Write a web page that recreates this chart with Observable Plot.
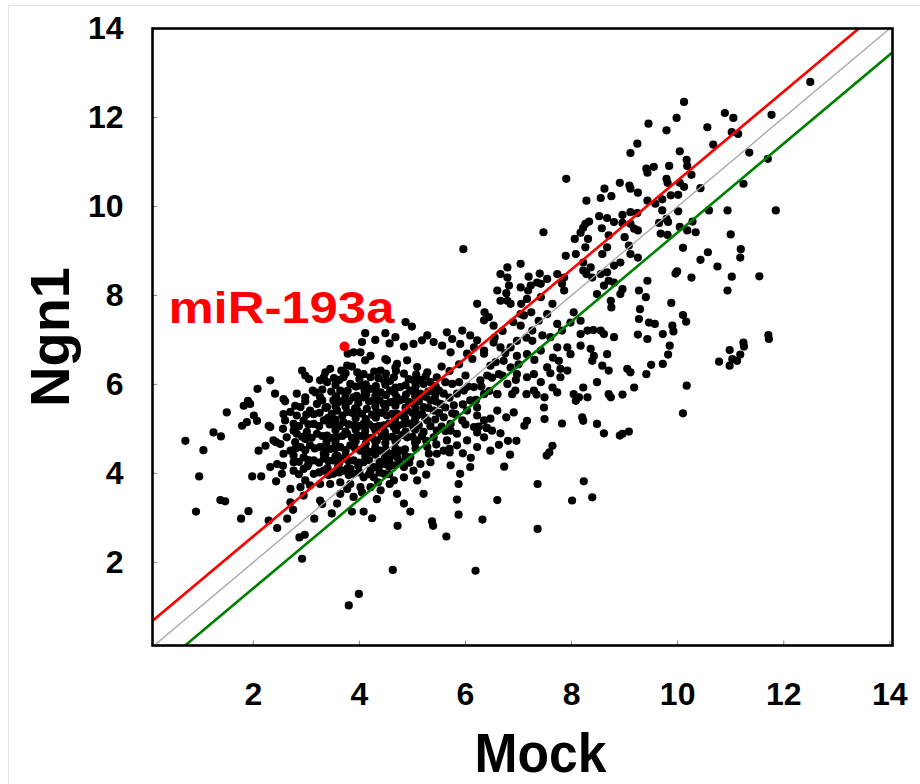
<!DOCTYPE html>
<html>
<head>
<meta charset="utf-8">
<script src="https://cdn.jsdelivr.net/npm/d3@7"></script>
<script src="https://cdn.jsdelivr.net/npm/@observablehq/plot@0.6"></script>
<style>
  html, body { margin: 0; padding: 0; background: #ffffff; }
  #chart { width: 920px; height: 784px; position: relative; }
  #chart::after { content: ""; position: absolute; left: 8px; top: 5px; right: 0; bottom: 0;
    border-left: 1px solid #e4e4e4; border-top: 1px solid #e4e4e4; pointer-events: none; }
</style>
</head>
<body>
<div id="chart"></div>
<script>
// ---- tick labels ----
const xTicks = [2, 4, 6, 8, 10, 12, 14];
const yTicks = [2, 4, 6, 8, 10, 12, 14];

// ---- fold-change guide lines (log2 offsets from y = x) ----
const diagonalMock = [-1, 15];
const upOffset = 0.585;
const equalOffset = 0;
const downOffset = -0.585;

// ---- highlighted miRNA ----
const highlightName = "miR-193a";
const highlightMock = 3.72;
const highlightNgn1 = 6.85;

// ---- points [Mock, Ngn1] ----
const highPoints = [
  [9.45,11.86],[9.24,11.41],[9.11,11.2],[9.41,10.85],[9.43,10.76],[7.9,10.62],[8.62,10.4],[8.91,10.53],
  [9.09,10.47],[9.11,10.4],[9.25,10.31],[8.55,10.19],[8.75,10.23],[8.28,10.13],[7.47,9.42],[8.52,9.78],
  [8.67,9.74],[8.96,9.81],[9.11,9.87],[9.24,9.85],[8.8,9.65],[8.96,9.63],[9.11,9.61],[9.18,9.5],
  [9.25,9.46],[8.26,9.61],[8.22,9.52],[8.17,9.41],[8.33,9.66],[8.57,9.51],[8.7,9.35],[9.0,9.31],
  [8.06,9.27],[8.31,9.27],[9.43,10.13],
  [12.5,12.8],[10.12,12.35],[10.89,12.1],[11.05,11.99],[11.77,12.06],[9.98,11.99],[9.79,11.71],[10.56,11.78],
  [11.02,11.67],[11.14,11.63],[10.67,11.39],[10.04,11.24],[10.17,11.05],[10.18,10.91],[11.35,11.21],[11.7,11.07],
  [9.55,10.89],[9.84,10.91],[10.26,10.71],[9.79,10.62],[9.81,10.53],[10.04,10.53],[10.12,10.44],[10.43,10.41],
  [11.24,10.51],[9.58,10.06],[9.71,10.16],[9.87,10.25],[10.01,10.26],[9.71,9.91],[10.01,9.89],[10.59,9.91],
  [10.94,9.91],[11.85,9.91],[9.79,9.72],[9.65,9.63],[9.82,9.65],[10.28,9.66],[10.04,9.54],[10.18,9.46],
  [10.34,9.42],[11.0,9.37],[9.68,9.39],[9.81,9.36]
];

const rightPoints = [
  [10.1,9.07],[10.57,8.97],[10.43,8.8],[11.19,9.04],[11.18,8.85],[10.75,8.65],[9.99,8.54],[9.96,8.49],
  [10.26,8.4],[11.02,8.42],[11.54,8.43],[10.94,8.11],[9.88,7.83],[10.1,7.56],[10.16,7.41],[9.57,7.36],
  [9.9,7.32],[9.92,7.19],[9.72,7.13],[11.71,7.11],[11.72,7.02],[9.85,6.87],[11.24,6.94],[11.25,6.85],
  [10.98,6.77],[9.82,6.67],[11.18,6.67],[11.03,6.57],[11.12,6.53],[10.78,6.51],[10.98,6.42],[9.5,6.44],
  [9.72,6.46],[10.17,5.97],[10.1,5.35]
];

const midPoints = [
  [5.96,9.04],[8.26,9.08],[7.89,8.89],[8.08,8.93],[8.58,8.93],[8.67,9.08],[9.08,9.12],[9.11,8.93],
  [9.25,8.85],[8.92,8.74],[8.8,8.67],[8.22,8.74],[8.36,8.63],[8.22,8.56],[8.28,8.48],[8.39,8.4],
  [8.55,8.48],[8.67,8.52],[8.7,8.33],[8.61,8.22],[8.8,8.29],[8.96,8.14],[8.92,8.03],[9.27,8.11],
  [9.43,8.33],[9.4,7.96],[9.29,7.69],[9.27,7.47],[9.46,7.39],[9.25,7.12],[9.43,7.02],[8.74,7.88],
  [8.75,7.73],[8.48,8.03],[8.04,7.62],[8.17,7.43],[7.98,7.39],[8.17,7.13],[8.3,7.21],[8.41,7.22],
  [8.55,7.21],[8.61,7.13],[8.8,7.06],[8.17,6.87],[8.36,6.8],[8.42,6.64],[8.39,6.53],[8.67,6.68],
  [8.58,6.42],[8.7,6.31],[9.05,6.35],[9.11,6.27],[9.41,6.23],[8.48,6.05],[9.18,5.93],[8.96,5.77],
  [8.7,5.78],[8.74,5.71],[8.22,5.93],[8.3,5.71],[8.14,5.71],[8.04,5.78],[8.2,5.26],[8.22,5.18],
  [8.48,5.11],[8.96,4.89],[9.08,4.94],[7.49,5.22],[7.82,5.12],[7.16,5.18],[7.11,5.07],[8.08,5.63],
  [7.48,5.48],[7.64,5.93],[7.73,5.82],[7.79,6.35],[7.79,6.16],[7.29,5.86],[7.34,5.77],[7.49,5.71],
  [7.15,5.78],[6.94,5.86],[6.88,5.78],[6.6,5.78],[6.91,5.37],[6.77,5.26],[6.66,4.9],[6.8,4.73],
  [6.96,4.73],[6.4,5.02],[6.63,4.64],[6.22,4.92],[7.64,4.62],[8.61,4.9],[8.91,4.85],
  [6.22,7.81],[6.36,7.62],[6.66,8.48],[6.79,8.63],[7.04,8.71],[7.19,8.42],[7.4,8.49],[7.35,8.29],
  [6.79,8.4],[6.82,8.22],[6.6,8.11],[6.77,8.05],[6.66,7.88],[6.79,7.88],[7.04,8.18],[7.18,8.11],
  [7.23,8.22],[7.42,8.26],[7.54,8.37],[7.73,8.48],[7.86,8.4],[7.82,8.26],[7.86,8.11],[7.42,7.96],
  [7.16,7.92],[7.05,7.81],[6.85,7.81],[7.04,7.58],[7.24,7.62],[7.38,7.43],[7.54,7.58],[7.64,7.81],
  [7.04,7.32],[7.26,7.21],[7.73,7.36],[7.6,7.06],[7.82,7.21],[7.73,6.83],[7.92,6.83],[7.98,6.68],
  [7.76,6.53],[7.92,6.31],[7.42,6.76],[7.16,6.68],[6.97,6.64],[7.54,6.38],[7.29,6.23],[7.16,6.16],
  [7.42,6.05],[6.97,6.23],[6.72,6.53],[6.85,6.38],[6.63,6.23],[6.79,6.01],[6.35,5.78],[6.22,5.48],
  [5.81,5.33],[5.72,4.96],[6.6,5.78],[6.4,5.02],
  [6.97,6.98],[6.85,6.83],[7.26,6.98],[6.66,6.83],[6.53,6.94],[6.35,6.76],[6.16,6.83],
  [6.55,7.05],[6.70,7.20],[6.90,7.40],[7.10,7.55],[6.75,6.70],[7.00,6.45],[7.30,6.55],[7.45,7.10],
  [7.65,6.60],[7.15,7.05],[6.50,6.15],[6.70,6.20],[6.95,6.10],[7.60,6.25]
];

const corePoints = [
  [4.87,7.40],[4.99,7.30],[5.28,7.10],[5.18,6.99],[5.02,6.91],[4.84,6.85],[4.68,7.06],[4.49,7.15],
  [4.30,7.00],[4.11,7.15],[4.05,6.95],[3.89,6.72],[3.78,6.69],[4.02,6.72],[4.11,6.54],[3.96,6.27],
  [3.77,6.42],[3.66,6.31],[3.45,6.35],[3.36,6.27],[3.26,6.09],[3.39,6.05],[2.92,6.31],[2.98,6.20],
  [2.82,5.79],[2.57,5.67],[2.41,5.79],[2.32,6.09],
  [5.65,7.17],[5.75,7.02],[5.94,7.21],[6.09,7.10],[6.22,6.99],[6.35,7.44],[6.44,7.51],[6.53,7.32],
  [5.90,6.91],[5.72,6.72],[5.56,6.87],[5.40,6.95],[6.03,6.69],[6.13,6.57],[6.35,6.69],[6.47,6.42],
  [6.57,6.50],[6.41,6.20],[6.28,6.09],[6.16,5.94],[5.97,5.86],[6.09,5.64],[6.03,5.41],[6.22,5.30],
  [6.35,5.19],[6.47,5.23],[6.60,5.41],[6.50,4.96],[6.35,4.81],[6.16,5.04],[5.94,5.19],[5.78,5.53],
  [5.84,5.79],[5.75,6.01],[5.46,6.16],[5.28,6.27],[5.09,6.39],[4.90,6.54],[4.71,6.46],[4.52,6.54],
  [4.40,6.31],[4.21,6.16],[4.46,6.09],[4.65,6.16],[4.84,6.24],[5.02,6.09],[5.21,6.01],[5.40,5.90],
  [5.59,5.79],[5.53,5.56],[5.34,5.64],[5.15,5.79],[4.96,5.86],[4.77,5.94],[4.58,5.86],[4.40,5.82],
  [4.21,5.90],[4.02,5.97],[3.83,6.01],[3.64,5.86],[3.51,5.64],[3.70,5.64],[3.89,5.71],[4.08,5.71],
  [4.27,5.64],[4.46,5.56],[4.65,5.60],[4.84,5.67],[5.02,5.56],[5.21,5.49],[5.40,5.41],[5.59,5.26],
  [5.72,5.11],[5.84,4.89],[6.03,4.74],[5.84,4.63],[5.65,4.74],[5.46,4.96],[5.28,5.19],[5.09,5.30],
  [4.90,5.41],[4.71,5.34],[4.52,5.30],[4.33,5.38],[4.14,5.45],[3.96,5.41],[3.77,5.38],[3.58,5.41],
  [3.39,5.49],[3.20,5.56],[3.07,5.41],[2.89,5.49],[2.70,5.38],[2.60,5.19],[2.76,5.11],[2.95,5.19],
  [3.14,5.11],[3.33,5.19],[3.51,5.11],[3.70,5.15],[3.89,5.08],[4.08,5.11],[4.27,5.04],[4.46,5.08],
  [4.65,5.04],[4.84,5.11],[5.02,5.04],[5.21,4.93],[5.40,4.81],[5.59,4.51],[5.46,4.44],[5.28,4.59],
  [5.09,4.74],[4.90,4.81],[4.71,4.78],[4.52,4.81],[4.33,4.74],[4.14,4.81],[3.96,4.85],[3.77,4.89],
  [3.58,4.81],[3.39,4.85],[3.20,4.89],[3.01,4.93],[2.82,4.89],[2.63,4.81],[2.51,4.66],[2.70,4.51],
  [2.89,4.59],[3.07,4.63],[3.26,4.59],[3.45,4.55],[3.64,4.59],[3.83,4.63],[4.02,4.51],[4.21,4.48],
  [4.40,4.51],[4.58,4.44],[4.77,4.51],[4.96,4.36],[5.15,4.21],[5.34,4.25],[5.02,4.06],[4.84,4.14],
  [4.65,4.18],[4.46,4.21],[4.27,4.14],[4.08,4.25],[3.89,4.29],[3.70,4.33],[3.51,4.29],[3.33,4.33],
  [3.14,4.29],[2.95,4.36],[2.76,4.25],[2.57,4.44],[2.45,4.21],[2.54,3.99],[2.76,4.06],[2.95,4.10],
  [3.14,3.99],[3.33,4.06],[3.51,3.99],[3.70,4.06],[3.89,3.99],[4.08,3.91],[4.27,3.91],[4.46,3.99],
  [4.65,3.84],[4.84,3.91],[5.09,3.84],[4.40,3.62],[4.21,3.69],[4.02,3.69],[3.83,3.76],[3.64,3.80],
  [3.45,3.76],[3.26,3.76],[3.07,3.73],[2.89,3.69],[2.70,3.65],[3.64,3.54],[3.89,3.47],[3.58,3.32],
  [3.26,3.39],[2.95,3.50],[2.70,3.35],[4.71,3.54],[4.84,3.32],[5.21,3.54],[5.72,4.18],[5.90,3.99],
  [6.09,4.14],[5.87,3.76],[6.22,4.59],[6.47,4.51],[2.32,5.04],[2.38,4.74],[2.32,4.14],
  [3.74,6.25],[4.28,6.29],[4.50,6.24],[4.69,6.30],[5.07,6.22],[5.25,6.18],
  [3.55,5.99],[3.93,5.95],[4.12,6.00],[4.31,5.96],[4.49,5.99],[4.68,5.93],[4.87,5.98],[5.06,5.96],[5.44,5.95],
  [3.56,5.73],[3.74,5.77],[3.95,5.74],[4.13,5.78],[4.30,5.73],[4.50,5.76],[4.70,5.72],[4.88,5.77],[5.05,5.74],[5.25,5.72],[5.43,5.76],
  [3.36,5.47],[3.55,5.51],[3.74,5.50],[3.92,5.46],[4.30,5.50],[4.49,5.47],[4.68,5.52],[4.87,5.48],[5.06,5.45],[5.30,5.47],[5.62,5.48],
  [3.41,5.25],[3.55,5.21],[3.93,5.24],[4.12,5.22],[4.31,5.25],[4.67,5.21],[4.86,5.24],[5.05,5.22],[5.24,5.25],[5.43,5.21],
  [3.55,4.97],[3.74,4.94],[3.93,4.98],[4.11,4.95],[4.30,4.97],[4.48,4.93],[4.69,4.97],[4.87,4.94],[5.05,4.98],[5.62,4.95],
  [3.38,4.70],[3.55,4.68],[3.93,4.72],[4.12,4.67],[4.30,4.71],[4.49,4.68],[4.68,4.72],[5.05,4.69],[5.26,4.73],
  [3.36,4.42],[3.55,4.38],[3.74,4.41],[4.11,4.39],[4.30,4.42],[4.49,4.37],[4.68,4.41],[4.87,4.38],
  [3.02,4.16],[3.40,4.12],[3.60,4.15],[3.78,4.12],[3.98,4.16],[4.36,4.12],[4.56,4.15]
];

const denseCorePoints = [
  [3.05,6.12],[3.52,6.14],[3.62,6.10],[4.00,6.12],[4.36,6.14],[4.58,6.08],[4.93,6.12],[5.15,6.10],[5.34,6.05],
  [3.12,5.86],[3.30,5.88],[3.47,5.84],[3.78,5.86],[4.10,5.84],[4.30,5.88],[4.66,5.82],[5.05,5.86],[5.30,5.84],[5.50,5.86],
  [2.98,5.62],[3.30,5.64],[3.60,5.60],[3.80,5.62],[3.98,5.58],[4.18,5.62],[4.38,5.64],[4.58,5.60],[4.76,5.64],[4.94,5.60],[5.12,5.62],[5.44,5.62],
  [3.00,5.32],[3.25,5.36],[3.48,5.34],[3.68,5.30],[3.86,5.36],[4.05,5.34],[4.24,5.32],[4.42,5.36],[4.62,5.34],[4.80,5.30],[5.00,5.36],[5.18,5.34],[5.50,5.36],
  [2.86,5.06],[3.04,5.10],[3.24,5.06],[3.44,5.10],[3.62,5.06],[3.80,5.10],[3.98,5.06],[4.18,5.10],[4.36,5.06],[4.56,5.12],[4.74,5.08],[4.94,5.12],[5.12,5.08],[5.34,5.06],
  [2.92,4.82],[3.10,4.80],[3.30,4.84],[3.48,4.80],[3.68,4.84],[3.86,4.80],[4.04,4.84],[4.24,4.80],[4.42,4.84],[4.62,4.82],[4.80,4.86],[5.00,4.82],[5.18,4.84],
  [2.80,4.56],[2.98,4.52],[3.16,4.56],[3.36,4.52],[3.54,4.56],[3.74,4.52],[3.92,4.56],[4.12,4.54],[4.30,4.58],[4.50,4.54],[4.68,4.56],[4.86,4.54],[5.06,4.56],
  [2.86,4.26],[3.04,4.30],[3.24,4.24],[3.42,4.28],[3.62,4.24],[3.80,4.28],[3.98,4.24],[4.18,4.30],[4.38,4.26],[4.56,4.30],[4.76,4.26],[4.94,4.24],
  [2.86,3.98],[3.24,4.02],[3.42,3.96],[3.62,4.02],[3.80,3.96],[4.00,4.02],[4.18,3.98],[4.38,4.02],[4.56,3.98],
  [5.55,6.40],[5.70,6.30],[5.88,6.45],[6.00,6.20],[5.62,6.05],[5.88,6.05],[6.05,5.95],[5.70,5.70],[5.95,5.55],
  [6.20,5.65],[6.30,5.95],[6.45,5.85],[5.55,5.05],[5.75,5.35],[6.00,5.10],[6.25,5.05],[5.45,4.65],[5.70,4.55],
  [5.95,4.45],[6.10,4.35]
];

const leftPoints = [
  [4.57,6.92],[4.49,6.57],[4.21,6.64],[3.86,6.40],[3.33,6.16],[3.7,6.16],[4.08,6.23],[4.68,6.38],
  [2.08,5.9],[2.6,5.62],[2.98,5.71],[3.17,5.82],[3.26,5.71],[1.9,5.63],[1.82,5.52],[1.94,5.56],
  [1.5,5.37],[2.01,5.3],[1.88,5.15],[1.79,5.07],[2.07,5.18],[2.29,5.07],[2.57,5.33],[2.79,5.52],
  [2.82,5.3],[2.56,5.0],[2.76,4.96],[3.14,5.33],[1.25,4.92],[1.39,4.83],[0.72,4.73],[1.06,4.52],
  [2.43,4.7],[2.23,4.62],[2.79,4.7],[2.98,4.77]
];

const lowPoints = [
  [2.1,4.51],[0.98,3.93],[1.98,3.93],[2.15,3.93],[2.43,3.82],[1.38,3.4],[1.47,3.37],[0.92,3.14],
  [1.91,3.15],[1.77,2.98],[2.29,2.94],[2.45,2.77],[2.64,2.98],[2.75,3.18],[2.87,2.56],[2.97,2.62],
  [2.92,2.08],[3.15,2.98],[3.48,3.1],[3.86,3.14],[4.08,3.14],[4.24,2.99],[4.72,2.82],[4.63,1.83],
  [3.99,1.29],[3.8,1.03],
  [2.56,4.17],[3.04,4.21],[2.98,3.84],[3.3,3.31],[3.77,3.65],[4.05,3.57],[4.33,3.42],[4.35,3.8],
  [4.57,3.76],[4.21,4.06],[3.83,4.1],[4.71,4.36],[4.49,4.36],[3.58,4.4],[3.33,4.44],[2.76,4.4],
  [6.84,4.42],[7.53,4.4],[7.58,4.47],[6.73,4.15],[5.26,3.97],[7.36,3.76],[8.23,3.82],[8.39,3.46],
  [8.01,3.39],[5.84,3.41],[6.6,3.4],[4.96,3.14],[5.87,3.07],[6.32,2.96],[5.37,2.92],[5.39,2.82],
  [7.36,2.75],[5.64,2.58],[6.19,1.81],[5.31,4.44],[5.7,4.47]
];

// ---- build tables for the library ----
const genes = [...highPoints, ...rightPoints, ...midPoints, ...corePoints, ...denseCorePoints, ...leftPoints, ...lowPoints]
  .map(([mock, ngn1]) => ({mock, ngn1}));
const highlight = [{name: highlightName, mock: highlightMock, ngn1: highlightNgn1}];
const guide = (offset) => diagonalMock.map(m => ({mock: m, ngn1: m + offset}));

const font = "'Liberation Sans', Arial, Helvetica, sans-serif";
const xMin = 0.1, yMin = 0.13;

const chart = Plot.plot({
  width: 920,
  height: 784,
  marginLeft: 152,
  marginRight: 28,
  marginTop: 28,
  marginBottom: 139,
  x: {domain: [xMin, 14.05]},
  y: {domain: [yMin, 14]},
  style: {fontFamily: font, background: "#ffffff", color: "#000000"},
  marks: [
    Plot.dot(genes, {x: "mock", y: "ngn1", r: 4.1, fill: "#000000"}),
    Plot.line(guide(equalOffset), {x: "mock", y: "ngn1", stroke: "#a6a6a6", strokeWidth: 1.3, clip: true}),
    Plot.line(guide(upOffset), {x: "mock", y: "ngn1", stroke: "#ff0000", strokeWidth: 2.6, clip: true}),
    Plot.line(guide(downOffset), {x: "mock", y: "ngn1", stroke: "#008000", strokeWidth: 2.6, clip: true}),
    Plot.dot(highlight, {x: "mock", y: "ngn1", r: 5, fill: "#ff0000"}),
    Plot.text(highlight, {x: () => 0.4, y: () => 7.39, text: "name", textAnchor: "start", lineAnchor: "bottom",
      fill: "#ff0000", fontSize: 44, fontWeight: "bold"}),
    Plot.ruleX(xTicks, {x: d => d, y1: yMin, y2: yMin + 0.1, stroke: "#888888", strokeWidth: 1}),
    Plot.ruleY(yTicks, {y: d => d, x1: xMin, x2: xMin + 0.1, stroke: "#888888", strokeWidth: 1}),
    Plot.axisX(xTicks, {anchor: "bottom", tickSize: 0, tickPadding: 37, fontSize: 32, fontWeight: "bold", label: null}),
    Plot.axisY(yTicks, {anchor: "left", tickSize: 0, tickPadding: 29, fontSize: 32, fontWeight: "bold", label: null}),
    Plot.frame({stroke: "#000000", strokeWidth: 2.6}),
    Plot.text(["Mock"], {text: d => d, frameAnchor: "bottom", textAnchor: "middle", dx: 18, dy: 126, lineAnchor: "bottom",
      fontSize: 56, fontWeight: "bold"}),
    Plot.text(["Ngn1"], {text: d => d, frameAnchor: "left", textAnchor: "middle", dx: -84, rotate: -90, lineAnchor: "bottom",
      fontSize: 56, fontWeight: "bold"})
  ]
});

// stretch / condense labels to the widths they take in the reference
const fitText = (content, length) => d3.select(chart).selectAll("text")
  .filter(function () { return this.textContent === content; })
  .attr("textLength", length)
  .attr("lengthAdjust", "spacingAndGlyphs");
fitText(highlightName, 226);
fitText("Mock", 132);

document.getElementById("chart").appendChild(chart);
</script>
</body>
</html>
